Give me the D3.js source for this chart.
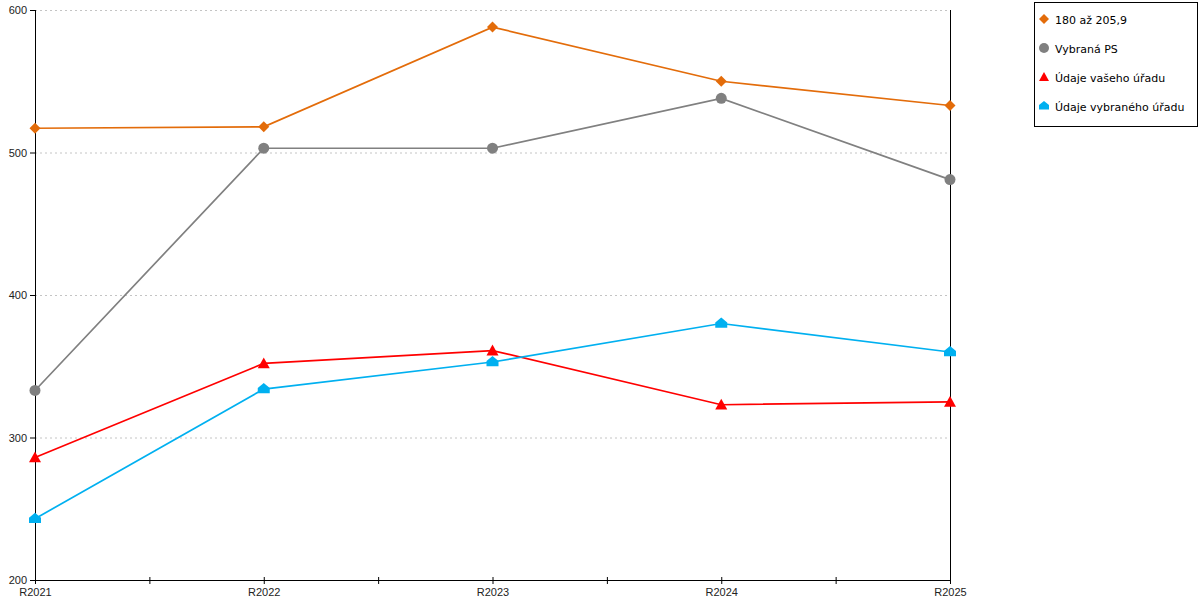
<!DOCTYPE html>
<html>
<head>
<meta charset="utf-8">
<script src="https://cdn.jsdelivr.net/npm/d3@7"></script>
<style>
  body { margin: 0; background: #fff; }
  svg { font-family: "DejaVu Sans", Verdana, sans-serif; }
  .grid line { stroke: #c4c4c4; stroke-dasharray: 2,3; }
  .axis path, .axis line { stroke: #000; }
  .axis text { font-size: 11px; fill: #222; }
</style>
</head>
<body>
<svg id="chart" width="1200" height="600"></svg>
<script>
// Data
var categories = ["R2021", "R2022", "R2023", "R2024", "R2025"];
var seriesNames = ["180 až 205,9", "Vybraná PS", "Údaje vašeho úřadu", "Údaje vybraného úřadu"];
var range180 = [517, 518, 588, 550, 533];
var vybranaPS = [333, 503, 503, 538, 481];
var vasUrad = [286, 352, 361, 323, 325];
var vybranyUrad = [243, 334, 353, 380, 360];
var yTicks = [200, 300, 400, 500, 600];

var colors = ["#e36c0a", "#808080", "#ff0000", "#00b0f0"];
var shapes = ["diamond", "circle", "triangle", "house"];
var series = [range180, vybranaPS, vasUrad, vybranyUrad].map(function(v, i) {
  return { name: seriesNames[i], values: v, color: colors[i], shape: shapes[i] };
});

var svg = d3.select("#chart");
var margin = { left: 35, right: 250, top: 10, bottom: 20 };
var width = 1200 - margin.left - margin.right;   // 915
var height = 600 - margin.top - margin.bottom;   // 570

var g = svg.append("g").attr("transform", "translate(" + margin.left + "," + margin.top + ")");

var xScale = d3.scalePoint().domain(categories).range([0, width]);
var yScale = d3.scaleLinear().domain([200, 600]).range([height, 0]);

// Gridlines
g.append("g").attr("class", "grid")
  .selectAll("line")
  .data(yTicks.filter(function(d) { return d > 200; }))
  .enter().append("line")
  .attr("x1", 0).attr("x2", width)
  .attr("y1", function(d) { return yScale(d) + 0.5; })
  .attr("y2", function(d) { return yScale(d) + 0.5; });

// Y axis
var yAxis = g.append("g").attr("class", "axis")
  .call(d3.axisLeft(yScale).tickValues(yTicks).tickSize(5).tickPadding(3));
yAxis.select(".domain").attr("d", "M0.5," + height + "V0");

// Right vertical line
g.append("line")
  .attr("x1", width + 0.5).attr("x2", width + 0.5)
  .attr("y1", 0).attr("y2", height)
  .attr("stroke", "#000");

// X axis
var xAxis = g.append("g").attr("class", "axis")
  .attr("transform", "translate(0," + height + ")")
  .call(d3.axisBottom(xScale).tickSize(4).tickPadding(4).tickSizeOuter(0));
xAxis.select(".domain").attr("d", "M0," + 0.5 + "H" + width);
xAxis.selectAll(".tick line").attr("y1", -3).attr("y2", 4);

// Minor ticks between categories
var step = xScale.step();
xAxis.selectAll(".minor")
  .data(categories.slice(1))
  .enter().append("line")
  .attr("class", "minor")
  .attr("x1", function(d) { return xScale(d) - step / 2 + 0.5; })
  .attr("x2", function(d) { return xScale(d) - step / 2 + 0.5; })
  .attr("y1", -3).attr("y2", 4)
  .attr("stroke", "#000");

// Marker shapes
function markerPath(shape, s) {
  if (shape === "diamond") return "M0," + (-s) + "L" + s + ",0L0," + s + "L" + (-s) + ",0Z";
  if (shape === "circle") return d3.symbol().type(d3.symbolCircle).size(Math.PI * s * s)();
  if (shape === "triangle") return "M0," + (-s) + "L" + s + "," + (s * 0.8) + "L" + (-s) + "," + (s * 0.8) + "Z";
  // house
  return "M0," + (-s) + "L" + s + ",-1L" + s + "," + (s * 0.7) + "L" + (-s) + "," + (s * 0.7) + "L" + (-s) + ",-1Z";
}
var markerSize = { diamond: 5.5, circle: 5.5, triangle: 6, house: 6 };

var line = d3.line()
  .x(function(d, i) { return xScale(categories[i]); })
  .y(function(d) { return yScale(d); });

var seriesG = g.selectAll(".series")
  .data(series)
  .enter().append("g")
  .attr("class", "series");

seriesG.append("path")
  .attr("d", function(d) { return line(d.values); })
  .attr("fill", "none")
  .attr("stroke", function(d) { return d.color; })
  .attr("stroke-width", 1.7);

seriesG.each(function(s) {
  d3.select(this).selectAll(".pt")
    .data(s.values)
    .enter().append("path")
    .attr("class", "pt")
    .attr("transform", function(d, i) { return "translate(" + xScale(categories[i]) + "," + yScale(d) + ")"; })
    .attr("d", markerPath(s.shape, markerSize[s.shape]))
    .attr("fill", s.color);
});

// Legend
var legend = svg.append("g").attr("transform", "translate(1034,2)");
legend.append("rect")
  .attr("x", 0.5).attr("y", 0.5)
  .attr("width", 163).attr("height", 124)
  .attr("fill", "#fff").attr("stroke", "#000");

var items = legend.selectAll(".item")
  .data(series)
  .enter().append("g")
  .attr("class", "item")
  .attr("transform", function(d, i) { return "translate(10," + (17 + i * 29) + ")"; });

items.append("path")
  .attr("d", function(d) { return markerPath(d.shape, 5); })
  .attr("fill", function(d) { return d.color; });

items.append("text")
  .attr("x", 11).attr("y", 4.5)
  .attr("font-size", "11px")
  .attr("fill", "#000")
  .text(function(d) { return d.name; });
</script>
</body>
</html>
